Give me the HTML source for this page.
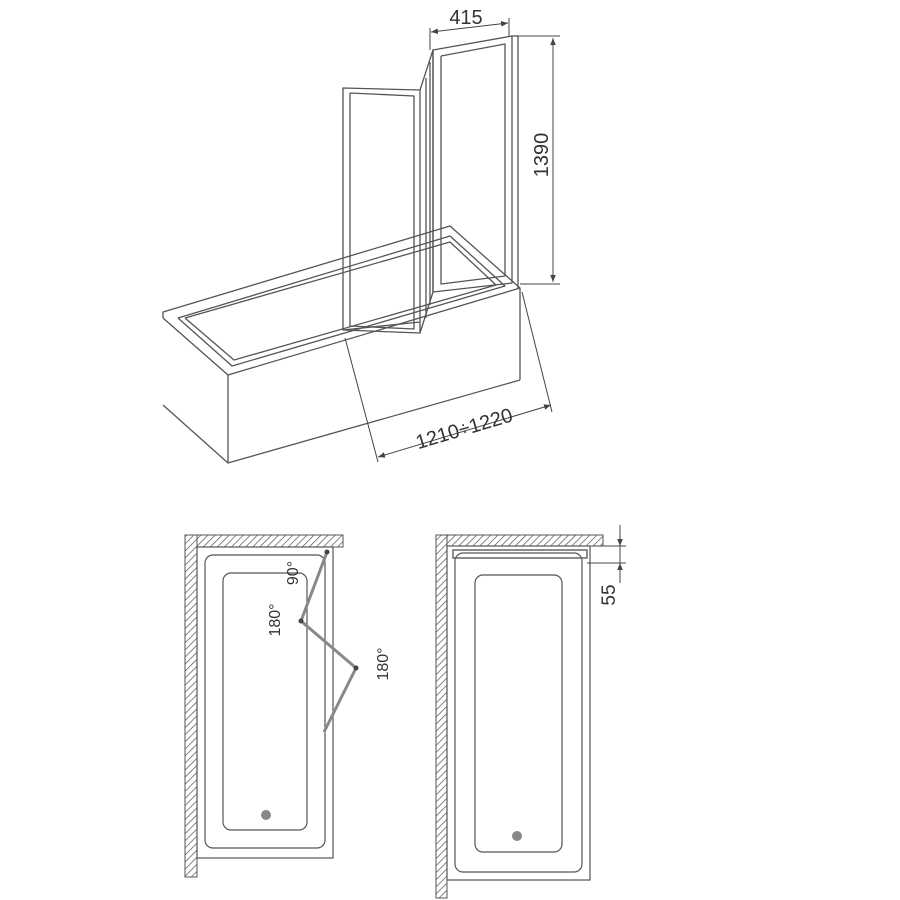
<!DOCTYPE html>
<html><head><meta charset="utf-8"><style>
html,body{margin:0;padding:0;background:#fff}
svg{display:block}
text{font-family:"Liberation Sans",sans-serif;fill:#333}
</style></head><body>
<svg width="900" height="900" viewBox="0 0 900 900" xmlns="http://www.w3.org/2000/svg">
<defs>
<pattern id="h" width="5" height="5" patternUnits="userSpaceOnUse" patternTransform="rotate(45)">
<rect width="5" height="5" fill="#fff"/><line x1="0" y1="0" x2="0" y2="5" stroke="#666" stroke-width="1.6"/>
</pattern>
<marker id="a" viewBox="0 0 10 10" refX="10" refY="5" markerWidth="7" markerHeight="7" orient="auto-start-reverse"><path d="M0,1 L10,5 L0,9 z" fill="#444"/></marker>
</defs>
<g fill="none" stroke="#555" stroke-width="1.3" stroke-linejoin="round">
<polyline points="163,318 163,312 450,226 520,288 520,380"/>
<polyline points="163,318 228,375 520,288"/>
<polyline points="178,318 450,236 505,286 232,366 178,318"/>
<polyline points="185,318 450,242 496,285 234,360 185,318"/>
<line x1="228" y1="375" x2="228" y2="463"/>
<polyline points="163,405 228,463 520,380"/>
<polygon points="343,88 420,90 420,333 343,330"/>
<polyline points="350,93 350,326 414,329 414,96 350,93"/>
<polyline points="420,90 433,50 433,292 420,333"/>
<line x1="426" y1="78" x2="426" y2="318"/>
<line x1="430" y1="62" x2="430" y2="305"/>
<line x1="343" y1="330" x2="420" y2="322"/>
<polygon points="433,50 512,36 512,283 433,292"/>
<polyline points="441,56 505,44 505,276 441,284 441,56"/>
<line x1="518" y1="36" x2="518" y2="288"/>
<line x1="512" y1="36" x2="518" y2="36"/>
<g stroke="#444" stroke-width="1">
<line x1="430" y1="50" x2="430" y2="28"/><line x1="509" y1="36" x2="509" y2="18"/>
<line x1="431" y1="32" x2="508" y2="23" marker-start="url(#a)" marker-end="url(#a)"/>
<line x1="518" y1="36" x2="560" y2="36"/><line x1="520" y1="284" x2="560" y2="284"/>
<line x1="553" y1="38" x2="553" y2="282" marker-start="url(#a)" marker-end="url(#a)"/>
<line x1="345" y1="338" x2="378" y2="462"/><line x1="522" y1="292" x2="552" y2="412"/>
<line x1="378" y1="457" x2="551" y2="405" marker-start="url(#a)" marker-end="url(#a)"/>
</g>
</g>
<text x="466" y="24" font-size="20" text-anchor="middle">415</text>
<text transform="translate(548,155) rotate(-90)" font-size="20" text-anchor="middle">1390</text>
<text transform="translate(466,435) rotate(-16.5)" font-size="20" text-anchor="middle">1210÷1220</text>

<rect x="185" y="535" width="12" height="342" fill="url(#h)" stroke="#555"/>
<rect x="197" y="535" width="146" height="12" fill="url(#h)" stroke="#555"/>
<g fill="none" stroke="#555" stroke-width="1.2">
<rect x="197" y="547" width="136" height="311"/>
<rect x="205" y="555" width="120" height="293" rx="8"/>
<rect x="223" y="573" width="84" height="257" rx="8"/>
<polyline points="327,552 301,621 356,668 324,732" stroke="#888" stroke-width="3"/>
</g>
<circle cx="301" cy="621" r="2.5" fill="#444"/><circle cx="356" cy="668" r="2.5" fill="#444"/><circle cx="327" cy="552" r="2.5" fill="#444"/>
<circle cx="266" cy="815" r="5" fill="#888"/>
<text transform="translate(298,573) rotate(-90)" font-size="16" text-anchor="middle">90°</text>
<text transform="translate(280,620) rotate(-90)" font-size="16" text-anchor="middle">180°</text>
<text transform="translate(388,664) rotate(-90)" font-size="16" text-anchor="middle">180°</text>

<rect x="436" y="535" width="11" height="363" fill="url(#h)" stroke="#555"/>
<rect x="447" y="535" width="156" height="11" fill="url(#h)" stroke="#555"/>
<g fill="none" stroke="#555" stroke-width="1.2">
<rect x="447" y="546" width="143" height="334"/>
<rect x="455" y="553" width="127" height="319" rx="8"/>
<rect x="475" y="575" width="87" height="277" rx="8"/>
<rect x="453" y="550" width="134" height="8" stroke="#666" stroke-width="1.5"/>
<g stroke="#444" stroke-width="1">
<line x1="592" y1="546" x2="626" y2="546"/><line x1="587" y1="563" x2="626" y2="563"/>
<line x1="620" y1="525" x2="620" y2="546" marker-end="url(#a)"/>
<line x1="620" y1="583" x2="620" y2="563" marker-end="url(#a)"/>
<line x1="620" y1="546" x2="620" y2="563"/>
</g>
</g>
<circle cx="517" cy="836" r="5" fill="#888"/>
<text transform="translate(615,595) rotate(-90)" font-size="19" text-anchor="middle">55</text>
</svg>
</body></html>
